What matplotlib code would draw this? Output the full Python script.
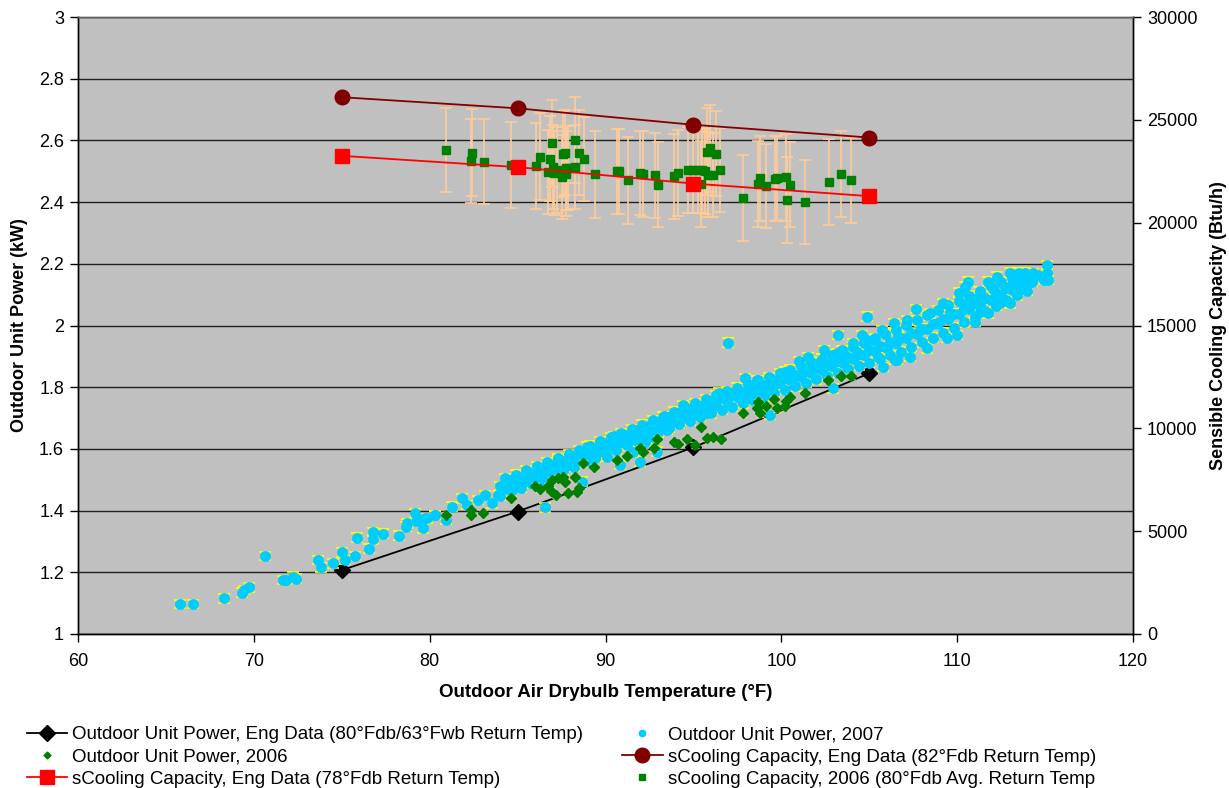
import matplotlib
matplotlib.use("Agg")
import matplotlib.pyplot as plt
from matplotlib.lines import Line2D

plt.rcParams['font.family'] = ['Liberation Sans', 'DejaVu Sans']

# ---------------- data ----------------
eng_temp = [75, 85, 95, 105]
eng_power = [1.207, 1.397, 1.605, 1.845]
eng_cap_82 = [26100, 25560, 24760, 24140]
eng_cap_78 = [23250, 22700, 21900, 21290]

# Outdoor unit power 2007 (temp F, kW)
power_2007_pts = [
    (65.80, 1.097), (66.52, 1.097), (68.32, 1.116), (69.31, 1.134), (69.44, 1.143),
    (69.71, 1.151), (70.64, 1.253), (71.64, 1.175), (71.83, 1.175), (72.25, 1.186),
    (72.40, 1.179), (73.67, 1.240), (73.84, 1.216), (74.49, 1.229), (75.00, 1.265),
    (75.19, 1.240), (75.77, 1.253), (75.89, 1.312), (76.53, 1.277), (76.80, 1.331),
    (76.80, 1.307), (77.37, 1.325), (78.28, 1.319), (78.64, 1.348), (78.73, 1.359),
    (79.17, 1.391), (79.23, 1.367), (79.64, 1.372), (79.64, 1.343), (79.83, 1.375),
    (80.33, 1.386), (79.74, 1.375), (80.31, 1.386), (80.93, 1.370), (81.26, 1.413),
    (81.83, 1.440), (82.11, 1.418), (82.77, 1.434), (83.15, 1.451), (83.53, 1.424),
    (83.91, 1.451), (84.29, 1.472), (84.57, 1.499), (85.05, 1.477), (85.33, 1.510),
    (85.71, 1.521), (86.00, 1.494), (86.28, 1.532), (86.66, 1.537), (86.56, 1.411),
    (87.04, 1.526), (87.32, 1.564), (87.61, 1.532), (87.99, 1.548), (88.27, 1.559),
    (88.65, 1.494), (88.74, 1.575), (88.93, 1.607), (89.12, 1.559), (89.50, 1.586),
    (89.88, 1.607), (90.07, 1.575), (90.49, 1.642), (90.55, 1.602), (90.83, 1.548),
    (91.11, 1.618), (91.40, 1.634), (91.59, 1.591), (91.87, 1.661), (91.97, 1.559),
    (92.25, 1.623), (92.54, 1.672), (92.82, 1.634), (92.92, 1.591), (93.29, 1.704),
    (93.49, 1.661), (93.86, 1.688), (94.43, 1.742), (94.24, 1.704), (94.91, 1.726),
    (95.38, 1.737), (95.76, 1.715), (96.48, 1.782), (96.23, 1.748), (96.99, 1.944),
    (96.90, 1.769), (97.37, 1.785), (97.94, 1.829), (98.22, 1.791), (98.61, 1.823),
    (98.79, 1.802), (99.36, 1.829), (99.33, 1.710), (99.74, 1.813), (100.22, 1.850),
    (100.69, 1.834), (101.03, 1.885), (101.17, 1.850), (101.49, 1.897), (101.73, 1.856),
    (102.21, 1.883), (102.43, 1.921), (102.68, 1.872), (102.96, 1.796), (103.16, 1.910),
    (103.21, 1.969), (103.44, 1.921), (103.72, 1.894), (104.10, 1.942), (104.29, 1.915),
    (104.61, 1.969), (104.86, 2.029), (104.86, 1.953), (105.24, 1.953), (105.52, 1.899),
    (105.72, 1.985), (106.00, 1.926), (106.38, 2.007), (106.47, 1.888), (106.66, 1.964),
    (105.81, 1.866), (106.57, 1.888), (107.14, 2.018), (107.33, 1.899), (107.67, 2.053),
    (107.89, 1.985), (108.28, 1.926), (108.46, 2.039), (108.84, 2.007), (109.22, 2.072),
    (109.41, 1.959), (109.60, 2.039), (109.98, 1.969), (110.11, 2.106), (110.45, 2.126),
    (110.59, 2.142), (110.64, 2.072), (111.02, 2.012), (111.12, 2.088), (111.31, 2.045),
    (111.78, 2.142), (111.78, 2.039), (112.07, 2.115), (112.26, 2.158), (112.45, 2.072),
    (112.73, 2.126), (112.98, 2.171), (113.01, 2.072), (113.20, 2.137), (113.54, 2.171),
    (113.58, 2.121), (113.87, 2.171), (113.96, 2.137), (114.25, 2.142), (114.62, 2.164),
    (114.91, 2.147), (115.10, 2.196), (115.10, 2.169), (115.19, 2.147),
    # dense band
    (84.3, 1.505), (84.0, 1.480), (84.0, 1.448), (84.9, 1.517), (84.6, 1.492), (84.6, 1.460),
    (85.5, 1.530), (85.2, 1.506), (85.2, 1.474), (86.1, 1.544), (85.8, 1.520), (85.8, 1.487),
    (86.7, 1.556), (86.4, 1.534), (86.4, 1.500), (87.3, 1.570), (87.0, 1.548), (87.0, 1.514),
    (87.9, 1.583), (87.6, 1.562), (87.6, 1.528), (88.5, 1.597), (88.2, 1.576), (88.2, 1.541),
    (89.1, 1.611), (88.8, 1.590), (88.8, 1.556), (89.7, 1.624), (89.4, 1.604), (89.4, 1.570),
    (90.3, 1.638), (90.0, 1.618), (90.0, 1.585), (90.9, 1.652), (90.6, 1.632), (90.6, 1.598),
    (91.5, 1.665), (91.2, 1.646), (91.2, 1.612), (92.1, 1.679), (91.8, 1.660), (91.8, 1.626),
    (92.7, 1.693), (92.4, 1.674), (92.4, 1.640), (93.3, 1.707), (93.0, 1.688), (93.0, 1.654),
    (93.9, 1.721), (93.6, 1.702), (93.6, 1.668), (94.5, 1.735), (94.2, 1.716), (94.2, 1.681),
    (95.1, 1.749), (94.8, 1.728), (94.8, 1.692), (95.7, 1.762), (95.4, 1.740), (95.4, 1.704),
    (96.3, 1.775), (96.0, 1.752), (96.0, 1.715), (96.9, 1.787), (96.6, 1.764), (96.6, 1.726),
    (97.5, 1.799), (97.2, 1.775), (97.2, 1.737), (98.1, 1.810), (97.8, 1.786), (97.8, 1.748),
    (98.7, 1.822), (98.4, 1.797), (98.4, 1.759), (99.3, 1.833), (99.0, 1.808), (99.0, 1.770),
    (99.9, 1.845), (99.6, 1.819), (99.6, 1.781), (100.5, 1.857), (100.2, 1.830), (100.2, 1.792),
    (101.1, 1.869), (100.8, 1.841), (100.8, 1.803), (101.7, 1.881), (101.4, 1.852), (101.4, 1.814),
    (102.3, 1.893), (102.0, 1.863), (102.0, 1.825), (102.9, 1.905), (102.6, 1.874), (102.6, 1.836),
    (103.5, 1.918), (103.2, 1.885), (103.2, 1.847), (104.1, 1.931), (103.8, 1.897), (103.8, 1.858),
    (104.7, 1.944), (104.4, 1.909), (104.4, 1.869), (105.3, 1.958), (105.0, 1.922), (105.0, 1.880),
    (105.9, 1.972), (105.6, 1.934), (105.6, 1.891), (106.5, 1.986), (106.2, 1.947), (106.2, 1.903),
    (107.1, 2.001), (106.8, 1.960), (106.8, 1.915), (107.7, 2.017), (107.4, 1.975), (107.4, 1.930),
    (108.3, 2.033), (108.0, 1.990), (108.0, 1.945), (108.9, 2.049), (108.6, 2.006), (108.6, 1.961),
    (109.5, 2.065), (109.2, 2.022), (109.2, 1.977), (110.1, 2.081), (109.8, 2.038), (109.8, 1.993),
    (110.7, 2.097), (110.4, 2.055), (110.4, 2.010), (111.3, 2.112), (111.0, 2.072), (111.0, 2.028),
    (111.9, 2.127), (111.6, 2.089), (111.6, 2.046), (112.5, 2.141), (112.2, 2.105), (112.2, 2.064),
    (113.1, 2.153), (112.8, 2.120), (112.8, 2.082), (113.7, 2.163), (113.4, 2.133), (113.4, 2.098),
    (114.3, 2.170), (114.0, 2.145), (114.0, 2.112),
    # in-between rows of the band
    (86.1, 1.517), (87.3, 1.541), (88.5, 1.566), (89.7, 1.594), (90.9, 1.622), (92.1, 1.650),
    (93.3, 1.678), (94.5, 1.705), (95.7, 1.731), (96.9, 1.756), (98.1, 1.778), (99.3, 1.800),
    (100.5, 1.823), (101.7, 1.845), (102.9, 1.868), (104.1, 1.892), (105.3, 1.917), (106.5, 1.943),
    (107.7, 1.972), (108.9, 2.004), (110.1, 2.036), (111.3, 2.068), (112.5, 2.100), (113.7, 2.126),
    (85.5, 1.497), (86.7, 1.523), (87.9, 1.552), (89.1, 1.580), (90.3, 1.606), (91.5, 1.636),
    (92.7, 1.662), (93.9, 1.690), (95.1, 1.716), (96.3, 1.742), (97.5, 1.768), (98.7, 1.789),
    (99.9, 1.812), (101.1, 1.834), (102.3, 1.857), (103.5, 1.880), (104.7, 1.904), (105.9, 1.929),
    (107.1, 1.958), (108.3, 1.988), (109.5, 2.020), (110.7, 2.052), (111.9, 2.084), (113.1, 2.114),
]

# Outdoor unit power 2006 (temp F, kW)
power_2006_pts = [
    (80.93, 1.386), (82.34, 1.402), (82.34, 1.386), (83.02, 1.391), (84.63, 1.440),
    (86.00, 1.480), (86.28, 1.469), (86.75, 1.480), (86.95, 1.499), (86.89, 1.465),
    (87.19, 1.451), (87.32, 1.505), (87.61, 1.510), (87.70, 1.494), (87.89, 1.456),
    (88.27, 1.510), (88.37, 1.461), (88.52, 1.472), (88.71, 1.553), (89.37, 1.540),
    (90.64, 1.564), (91.25, 1.577), (91.97, 1.602), (92.12, 1.591), (92.78, 1.602),
    (92.95, 1.631), (93.90, 1.623), (94.15, 1.615), (94.62, 1.631), (95.10, 1.613),
    (95.42, 1.672), (95.76, 1.634), (96.14, 1.640), (96.56, 1.631), (97.81, 1.715),
    (98.64, 1.731), (98.70, 1.751), (98.79, 1.715), (99.14, 1.739), (99.61, 1.763),
    (99.74, 1.731), (100.27, 1.756), (100.22, 1.739), (100.50, 1.769), (101.36, 1.782),
    (102.68, 1.823), (103.38, 1.836), (103.95, 1.836),
]

# Sensible cooling capacity 2006 (temp F, Btu/h, error Btu/h)
cap_2006_temp = [80.93, 82.39, 82.35, 83.07, 84.65, 86.04, 86.28, 86.74, 86.87, 86.93,
                 87.02, 87.09, 87.24, 87.54, 87.59, 87.67, 87.74, 87.76, 87.89, 88.28,
                 88.28, 88.50, 88.76, 89.39, 90.67, 90.78, 91.26, 91.98, 92.13, 92.83,
                 92.96, 93.91, 94.13, 94.70, 94.96, 95.28, 95.46, 95.41, 95.67, 95.76,
                 95.93, 95.83, 96.11, 96.26, 96.54, 97.80, 98.67, 98.76, 99.11, 99.63,
                 99.74, 100.24, 100.30, 100.52, 101.37, 102.72, 103.39, 103.94]
cap_2006 = [23535, 23407, 22990, 22973, 22797, 22749, 23214, 22460, 23118, 23856,
            22701, 22412, 22572, 22220, 23326, 23407, 22653, 22380, 22653, 24016,
            22701, 23407, 23086, 22348, 22492, 22492, 22059, 22412, 22364, 22300,
            21851, 22252, 22412, 22572, 22540, 22540, 22540, 21883, 22492, 23455,
            23615, 22332, 22332, 23358, 22556, 21209, 21883, 22155, 21770, 22139,
            22187, 22204, 21113, 21851, 21001, 21979, 22364, 22059]
cap_2006_err = [2060, 2100, 2050, 2050, 2080, 2080, 2100, 2050, 2050, 2100,
                2050, 2050, 2080, 2050, 2100, 2050, 2050, 2080, 2050, 2100,
                2050, 2080, 2050, 2100, 2080, 2080, 2100, 2050, 2080, 2050,
                2080, 2050, 2080, 2100, 2050, 2080, 2050, 2100, 2050, 2100,
                2100, 2080, 2050, 2080, 2050, 2100, 2100, 2080, 2050, 2080,
                2050, 2100, 2080, 2050, 2060, 2080, 2080, 2080]

# ---------------- figure ----------------
W, H = 1229, 788
fig = plt.figure(figsize=(W / 100, H / 100), dpi=100)
L, R, T, B = 78, 1133, 17, 634
ax = fig.add_axes([L / W, 1 - B / H, (R - L) / W, (B - T) / H])
ax.set_facecolor('#C0C0C0')
ax.set_xlim(60, 120)
ax.set_ylim(1, 3)
ax.set_xticks(list(range(60, 121, 10)))
yt = [1.0, 1.2, 1.4, 1.6, 1.8, 2.0, 2.2, 2.4, 2.6, 2.8, 3.0]
ax.set_yticks(yt)
ax.set_yticklabels(['1', '1.2', '1.4', '1.6', '1.8', '2', '2.2', '2.4', '2.6', '2.8', '3'])
ax.yaxis.grid(True, color='#202020', lw=1.0)
ax.set_axisbelow(True)
ax.tick_params(direction='out', length=6, width=1, labelsize=13, pad=4)
ax.tick_params(axis='x', pad=8)

ax2 = ax.twinx()
ax2.set_ylim(0, 30000)
ax2.set_yticks(list(range(0, 30001, 5000)))
ax2.tick_params(direction='out', length=6, width=1, labelsize=13, pad=4)

for a in (ax, ax2):
    for s in a.spines.values():
        s.set_color('black')
        s.set_linewidth(1.0)
    a.spines['top'].set_color('#606060')

t07 = [p[0] for p in power_2007_pts]
p07 = [p[1] for p in power_2007_pts]
t06 = [p[0] for p in power_2006_pts]
p06 = [p[1] for p in power_2006_pts]

# eng data power
ax.plot(eng_temp, eng_power, color='black', lw=1.3, marker='D', ms=8,
        mfc='black', mec='black', zorder=3)
# 2007
ax.errorbar(t07, p07, yerr=0.014, fmt='o', ms=6.8, mfc='#00CCFF', mec='#00CCFF',
            ecolor='#FFFF00', elinewidth=1, capsize=4.5, capthick=1.2, zorder=4)
# 2006
ax.errorbar(t06, p06, yerr=0.01, fmt='D', ms=5, mfc='#008000', mec='#008000',
            ecolor='#FFCC99', elinewidth=1, capsize=3, capthick=1, zorder=5)

# capacity 2006
ax2.errorbar(cap_2006_temp, cap_2006, yerr=cap_2006_err, fmt='s', ms=5.5,
             mfc='#008000', mec='#008000', ecolor='#FFCC99', elinewidth=1.2,
             capsize=4.5, capthick=1.2, zorder=3)
ax2.plot(eng_temp, eng_cap_82, color='#800000', lw=1.3, marker='o', ms=10.5,
         mfc='#800000', mec='#800000', zorder=5)
ax2.plot(eng_temp, eng_cap_78, color='#FF0000', lw=1.3, marker='s', ms=9.5,
         mfc='#FF0000', mec='#FF0000', zorder=5)

ax.set_xlabel('Outdoor Air Drybulb Temperature (°F)', fontsize=13.5,
              fontweight='bold', labelpad=10)
ax.set_ylabel('Outdoor Unit Power (kW)', fontsize=13, fontweight='bold', labelpad=8)
ax2.set_ylabel('Sensible Cooling Capacity (Btu/h)', fontsize=13,
               fontweight='bold', labelpad=9)

handles = [
    Line2D([], [], color='black', lw=1.3, marker='D', ms=8),
    Line2D([], [], color='#008000', lw=0, marker='D', ms=3.5),
    Line2D([], [], color='#FF0000', lw=1.3, marker='s', ms=9.5),
    Line2D([], [], color='#00CCFF', lw=0, marker='o', ms=4.5),
    Line2D([], [], color='#800000', lw=1.3, marker='o', ms=10.5),
    Line2D([], [], color='#008000', lw=0, marker='s', ms=4.5),
]
labels = [
    'Outdoor Unit Power, Eng Data (80°Fdb/63°Fwb Return Temp)',
    'Outdoor Unit Power, 2006',
    'sCooling Capacity, Eng Data (78°Fdb Return Temp)',
    'Outdoor Unit Power, 2007',
    'sCooling Capacity, Eng Data (82°Fdb Return Temp)',
    'sCooling Capacity, 2006 (80°Fdb Avg. Return Temp',
]
fig.legend(handles, labels, ncol=2, loc='upper left',
           bbox_to_anchor=(27 / W, 1 - 726 / H), frameon=False, fontsize=13.5,
           handlelength=2.15, handletextpad=0.27, columnspacing=2.07,
           labelspacing=0.28, borderaxespad=0, borderpad=0)

fig.savefig('out.png', dpi=100)
